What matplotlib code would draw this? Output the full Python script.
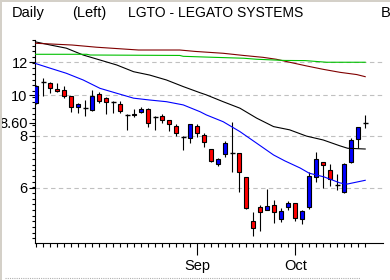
import numpy as np
import matplotlib.pyplot as plt
from matplotlib.patches import Rectangle
from matplotlib.lines import Line2D

plt.rcParams['font.family'] = ['Liberation Sans', 'DejaVu Sans']

# daily candles, one per trading day
opens = [9.57, 10.73, 10.69, 10.33, 10.30, 9.96, 9.36, 9.34, 9.22, 10.07,
         9.87, 9.66, 9.51, 8.99, 9.01, 9.10, 9.26, 8.89, 8.90, 8.71,
         8.43, 7.96, 7.90, 8.45, 8.03, 7.42, 6.83, 7.22, 7.26, 7.26,
         6.36, 4.99, 5.40, 5.31, 5.45, 5.05, 5.40, 5.51, 5.06, 5.40,
         6.36, 6.91, 6.61, 6.08, 5.85, 6.92, 7.84, 8.60]
highs = [10.59, 11.00, 10.78, 10.69, 10.53, 9.97, 9.60, 9.74, 10.30, 10.17,
         9.92, 9.67, 9.69, 9.00, 9.25, 9.35, 9.30, 8.90, 9.02, 8.73,
         8.53, 7.97, 8.53, 8.52, 8.11, 7.43, 7.06, 7.77, 8.63, 7.27,
         6.38, 5.26, 5.45, 5.96, 5.61, 5.36, 5.58, 5.52, 5.29, 6.56,
         7.32, 6.92, 6.84, 6.47, 6.87, 7.88, 8.39, 8.97]
lows = [9.53, 9.96, 10.14, 10.20, 9.87, 9.13, 9.08, 8.92, 9.18, 9.57,
        9.02, 9.07, 9.08, 8.23, 8.87, 9.09, 8.37, 8.27, 8.58, 8.21,
        7.97, 7.37, 7.67, 7.94, 7.53, 6.91, 6.77, 7.12, 6.56, 5.87,
        5.33, 4.60, 4.71, 5.29, 4.93, 4.97, 5.29, 5.00, 4.90, 5.33,
        6.20, 6.00, 6.06, 5.93, 5.82, 6.87, 7.46, 8.33]
closes = [10.53, 10.73, 10.39, 10.26, 9.98, 9.36, 9.53, 9.34, 9.96, 9.71,
          9.62, 9.66, 9.18, 8.99, 8.97, 9.27, 8.57, 8.89, 8.74, 8.54,
          8.11, 7.96, 8.52, 8.11, 7.74, 6.97, 7.02, 7.68, 7.26, 6.56,
          5.37, 4.81, 5.26, 5.42, 5.24, 5.28, 5.51, 5.07, 5.28, 6.39,
          7.02, 6.79, 6.29, 6.08, 6.83, 7.81, 8.38, 8.60]

# moving averages (day index, price)
blue_x = [-0.2, 2, 4.3, 6.7, 9.1, 11.5, 13.9, 16.2, 18.6, 21, 23.4, 24.3,
          26.7, 29.1, 31.5, 33.9, 35.5, 37.7, 39, 41.1, 43.4, 44.4, 46.2, 47]
blue_y = [11.93, 11.61, 11.29, 10.88, 10.39, 10.11, 9.84, 9.74, 9.65, 9.48, 9.13, 8.97,
          8.64, 8.18, 7.67, 7.19, 6.96, 6.69, 6.50, 6.37, 6.16, 6.12, 6.21, 6.25]
black_x = [-0.2, 2, 4.3, 6.7, 9.1, 11.5, 13.9, 16.2, 18.6, 21, 23.4, 24.3,
           26.7, 29.1, 31.5, 33.9, 36.2, 38.6, 41, 43.4, 44.5, 47]
black_y = [13.44, 13.20, 12.97, 12.49, 12.15, 11.82, 11.39, 11.18, 10.88, 10.49, 10.14, 10.02,
           9.65, 9.31, 8.81, 8.41, 8.26, 7.98, 7.81, 7.56, 7.46, 7.43]
red_x = [-0.2, 5.1, 8.6, 14.6, 20.5, 22.7, 26.7, 29.6, 32.4, 34.3, 36.2, 38.6, 41, 43.4, 45.8, 47]
red_y = [13.33, 13.20, 13.04, 12.84, 12.84, 12.74, 12.61, 12.46, 12.33, 12.20, 12.00, 11.76,
         11.54, 11.35, 11.21, 11.08]
green_x = [-0.2, 7.2, 7.7, 20.5, 21, 25.5, 29.6, 31.5, 35.5, 38.4, 41.5, 47]
green_y = [12.54, 12.54, 12.49, 12.46, 12.40, 12.33, 12.27, 12.20, 12.12, 12.11, 12.00, 12.00]

grid_levels = [6, 8, 10, 12]
ytick_vals = [6, 8, 8.6, 10, 12]
ytick_labels = ['6', '8', '8.60', '10', '12']
month_pos = [23, 37]
month_labels = ['Sep', 'Oct']

fig = plt.figure(figsize=(3.9, 2.8), dpi=100)
ax = fig.add_axes([35.3 / 390, 37 / 280, 347.4 / 390, 203 / 280])
ax.set_yscale('log')
ax.set_ylim(4.42, 13.57)
ax.set_xlim(-0.14, 49.5)

for lev in grid_levels:
    ax.axhline(lev, color='#c0c0c0', lw=0.8, ls=(0, (4, 3)), zorder=1)

for i in range(len(opens)):
    o, h, l, c = opens[i], highs[i], lows[i], closes[i]
    ax.vlines(i, l, h, color='black', lw=0.8, zorder=2)
    if o == c:
        ax.hlines(o, i - 0.38, i + 0.38, color='black', lw=1.0, zorder=3)
    else:
        col = '#0000ff' if c > o else '#ff0000'
        ax.bar(i, abs(c - o), bottom=min(o, c), width=0.58, color=col,
               edgecolor='black', lw=0.8, zorder=3)

ax.plot(blue_x, blue_y, color='#0000ff', lw=0.8, zorder=4)
ax.plot(black_x, black_y, color='black', lw=0.8, zorder=4)
ax.plot(red_x, red_y, color='#800000', lw=0.8, zorder=4)
ax.plot(green_x, green_y, color='#00c000', lw=0.8, zorder=4)

ax.spines['top'].set_visible(False)
ax.spines['right'].set_visible(False)
ax.spines['left'].set_linewidth(0.8)
ax.spines['bottom'].set_linewidth(0.8)

ax.set_yticks(ytick_vals)
ax.set_yticklabels(ytick_labels)
minor_y = 13.57 * np.exp(-0.0313 * np.arange(0, 36))
ax.set_yticks(minor_y[minor_y > 4.42], minor=True)
ax.yaxis.set_minor_formatter(plt.NullFormatter())
ax.set_xticks(month_pos)
ax.set_xticklabels(month_labels)
ax.set_xticks(range(len(opens)), minor=True)

ax.tick_params(axis='y', which='major', length=4.5, width=0.8, pad=1, labelsize=10.5)
ax.tick_params(axis='y', which='minor', length=2.2, width=0.8)
ax.tick_params(axis='x', which='major', length=8.5, width=0.8, pad=3, labelsize=10.5)
ax.tick_params(axis='x', which='minor', length=3.2, width=0.8)

fig.text(12 / 390, 1 - 17 / 280, 'Daily', fontsize=10.5, va='baseline')
fig.text(72 / 390, 1 - 17 / 280, '(Left)', fontsize=10.5, va='baseline')
fig.text(128 / 390, 1 - 17 / 280, 'LGTO - LEGATO SYSTEMS', fontsize=10, va='baseline')
fig.text(381 / 390, 1 - 17 / 280, 'B', fontsize=10.5, va='baseline')

fig.add_artist(Rectangle((0, 0), 2 / 390, 1, transform=fig.transFigure, color='#d4d0c8', lw=0))
fig.add_artist(Rectangle((0, 1 - 1.5 / 280), 1, 1.5 / 280, transform=fig.transFigure, color='#d4d0c8', lw=0))
fig.add_artist(Line2D([5 / 390, 360 / 390], [2 / 280, 2 / 280], transform=fig.transFigure,
                      color='#b0b0b0', lw=0.8, ls=(0, (1, 1))))

fig.savefig('out.png', dpi=100)
